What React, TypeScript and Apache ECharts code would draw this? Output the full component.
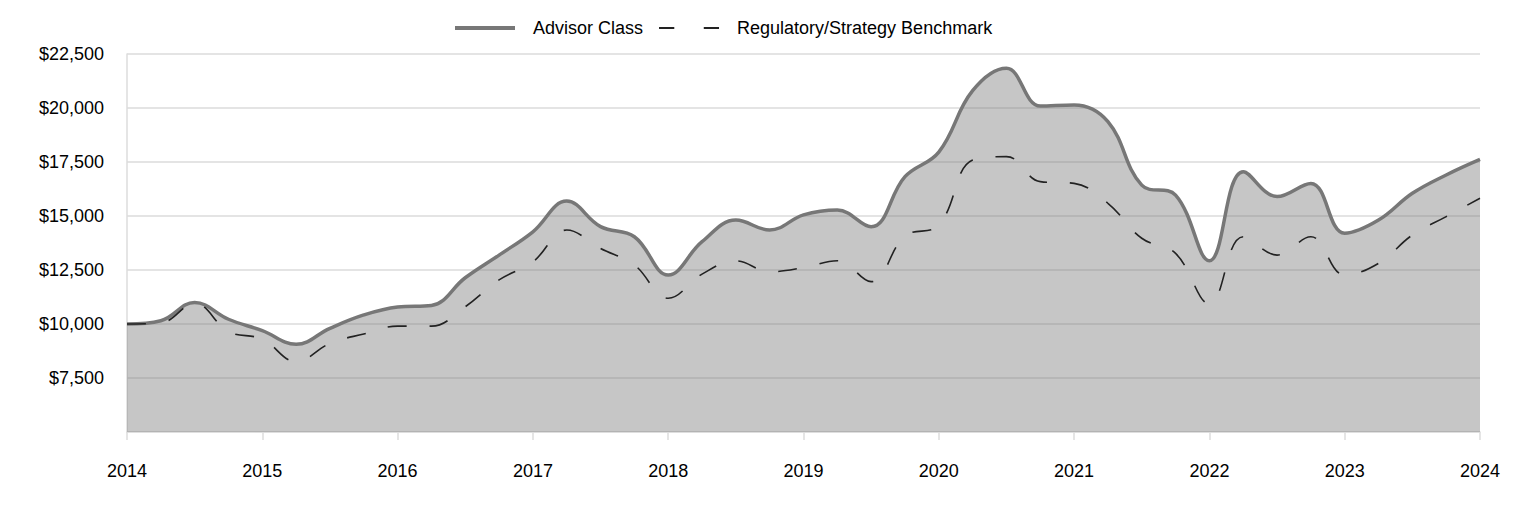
import React, { useEffect, useRef } from "react";
import * as echarts from "echarts";

const categories = [
  "2014-01", "2014-04", "2014-07", "2014-10",
  "2015-01", "2015-04", "2015-07", "2015-10",
  "2016-01", "2016-04", "2016-07", "2016-10",
  "2017-01", "2017-04", "2017-07", "2017-10",
  "2018-01", "2018-04", "2018-07", "2018-10",
  "2019-01", "2019-04", "2019-07", "2019-10",
  "2020-01", "2020-04", "2020-07", "2020-10",
  "2021-01", "2021-04", "2021-07", "2021-10",
  "2022-01", "2022-04", "2022-07", "2022-10",
  "2023-01", "2023-04", "2023-07", "2023-10",
  "2024-01",
];

const advisorClass = [
  10000, 10150, 11000, 10220, 9690, 9060, 9800, 10420, 10790, 10860,
  12140, 13190, 14270, 15690, 14510, 14040, 12270, 13810, 14810, 14350,
  15050, 15280, 14500, 16820, 17960, 20800, 21840, 20090, 20140, 19370,
  16430, 15970, 12930, 17050, 15900, 16510, 14200, 14810, 16050, 16900,
  17620,
];

const benchmark = [
  10000, 10050, 10950, 9650, 9300, 8260, 9100, 9540, 9900, 9900,
  10800, 12040, 12880, 14350, 13500, 12730, 11190, 12310, 12920, 12420,
  12610, 12930, 11960, 14070, 14580, 17590, 17750, 16590, 16510, 15590,
  13970, 13270, 10930, 14040, 13190, 14040, 12270, 12810, 14120, 14970,
  15820,
];

const seriesNames = ["Advisor Class", "Regulatory/Strategy Benchmark"];

const FONT = "'Liberation Sans', Arial, Helvetica, sans-serif";

export default function App() {
  const ref = useRef<HTMLDivElement>(null);

  useEffect(() => {
    document.body.style.margin = "0";
    if (!ref.current) return;
    const chart = echarts.init(ref.current, null, { renderer: "svg" });
    chart.setOption({
      animation: false,
      backgroundColor: "#ffffff",
      textStyle: { fontFamily: FONT },
      legend: {
        left: 455,
        top: 19,
        padding: 0,
        itemWidth: 60,
        itemHeight: 18,
        itemGap: 16,
        textStyle: {
          fontFamily: FONT,
          fontSize: 18,
          color: "#000",
          padding: [0, 0, 0, 13],
        },
        data: [
          {
            name: seriesNames[0],
            icon: "path://M0,0h60v4h-60z",
            itemStyle: { color: "#777777" },
          },
          {
            name: seriesNames[1],
            icon: "path://M0,0h15v2h-15z M44,0h15v2h-15z",
            itemStyle: { color: "#222222" },
          },
        ],
      },
      grid: { left: 127, right: 44, top: 54, bottom: 84 },
      xAxis: {
        type: "category",
        data: categories,
        boundaryGap: false,
        axisLine: { show: true, lineStyle: { color: "#dddddd", width: 1.5 } },
        axisTick: {
          show: true,
          interval: 3,
          length: 8,
          lineStyle: { color: "#dddddd", width: 1.5 },
        },
        axisLabel: {
          interval: 3,
          margin: 30,
          fontFamily: FONT,
          fontSize: 18,
          color: "#000",
          formatter: (v: string) => v.slice(0, 4),
        },
        splitLine: { show: false },
      },
      yAxis: {
        type: "value",
        min: 5000,
        max: 22500,
        interval: 2500,
        axisLine: { show: true, lineStyle: { color: "#dddddd", width: 1.5 } },
        axisTick: { show: false },
        axisLabel: {
          margin: 23,
          fontFamily: FONT,
          fontSize: 18,
          color: "#000",
          showMinLabel: false,
          formatter: (v: number) =>
            v === 5000 ? "" : "$" + v.toLocaleString("en-US"),
        },
        splitLine: { show: true, lineStyle: { color: "#e4e4e4", width: 2 } },
      },
      series: [
        {
          name: seriesNames[0],
          type: "line",
          data: advisorClass,
          smooth: 0.4,
          symbol: "none",
          lineStyle: { color: "#777777", width: 3.5 },
          itemStyle: { color: "#777777" },
          areaStyle: {
            color: "rgba(120,120,120,0.42)",
            opacity: 1,
            origin: "start",
          },
          z: 2,
        },
        {
          name: seriesNames[1],
          type: "line",
          data: benchmark,
          smooth: 0.4,
          symbol: "none",
          lineStyle: { color: "#222222", width: 1.6, type: [19, 23] },
          itemStyle: { color: "#222222" },
          z: 3,
        },
      ],
    });
    return () => chart.dispose();
  }, []);

  return <div ref={ref} style={{ width: 1524, height: 516 }} />;
}
